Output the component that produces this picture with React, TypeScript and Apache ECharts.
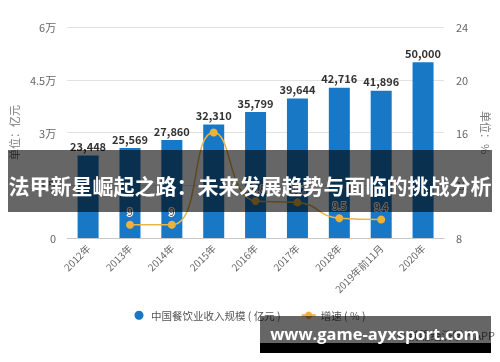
import React, { useEffect, useRef } from "react";
import * as echarts from "echarts";

const categories = ["2012年", "2013年", "2014年", "2015年", "2016年", "2017年", "2018年", "2019年前11月", "2020年"];
const revenue = [23448, 25569, 27860, 32310, 35799, 39644, 42716, 41896, 50000];
const growth: (number | null)[] = [null, 9, 9, 16, 10.8, 10.7, 9.5, 9.4, null];
const hiddenGrowthLabels = ["2015年"];
const leftTicks = { min: 0, max: 60000, interval: 15000 };
const rightTicks = { min: 8, max: 24, interval: 4 };
const barName = "中国餐饮业收入规模 ( 亿元 )";
const lineName = "增速 ( % )";
const bannerText = "法甲新星崛起之路：未来发展趋势与面临的挑战分析";
const siteText = "www.game-ayxsport.com";
const sourceText = "© 前瞻经济学人APP";

export default function App() {
  const ref = useRef<HTMLDivElement>(null);
  useEffect(() => {
    if (!ref.current) return;
    const chart = echarts.init(ref.current, null, { renderer: "svg" });
    const font = "'Noto Sans CJK SC', 'Noto Sans', sans-serif";
    chart.setOption({
      animation: false,
      textStyle: { fontFamily: font },
      grid: { left: 60, right: 46, top: 27, bottom: 124 },
      legend: {
        top: 305,
        left: "center",
        itemGap: 20,
        itemWidth: 14,
        itemHeight: 9,
        textStyle: { color: "#555", fontSize: 10.5, fontFamily: font },
        data: [
          { name: barName, icon: "circle" },
          { name: lineName },
        ],
      },
      xAxis: {
        type: "category",
        data: categories,
        axisLine: { lineStyle: { color: "#c8c8c8" } },
        axisTick: { alignWithLabel: true, lineStyle: { color: "#c8c8c8" } },
        axisLabel: { rotate: 45, color: "#666", fontSize: 10, margin: 8 },
      },
      yAxis: [
        {
          type: "value",
          ...leftTicks,
          name: "单位：亿元",
          nameLocation: "middle",
          nameGap: 40,
          nameTextStyle: { color: "#777", fontSize: 11 },
          axisLine: { show: false },
          axisTick: { show: false },
          axisLabel: {
            color: "#666",
            fontSize: 11,
            margin: 11,
            formatter: (v: number) => (v === 0 ? "0" : v / 10000 + "万"),
          },
          splitLine: { lineStyle: { color: "#e2e2e2" } },
        },
        {
          type: "value",
          ...rightTicks,
          name: "单位：%",
          nameLocation: "middle",
          nameGap: 37,
          nameRotate: -90,
          nameTextStyle: { color: "#777", fontSize: 11 },
          axisLine: { show: false },
          axisTick: { show: false },
          axisLabel: { color: "#666", fontSize: 11, margin: 12 },
          splitLine: { show: false },
        },
      ],
      series: [
        {
          name: barName,
          type: "bar",
          data: revenue,
          barWidth: 21,
          itemStyle: { color: "#1878c6" },
          label: {
            show: true,
            position: "top",
            distance: 4,
            color: "#333",
            fontSize: 11,
            fontWeight: "bold",
            formatter: (p: any) => p.value.toLocaleString("en-US"),
          },
        },
        {
          name: lineName,
          type: "line",
          yAxisIndex: 1,
          smooth: 0.5,
          data: growth.map((v, i) => ({
            value: v,
            label: { show: !hiddenGrowthLabels.includes(categories[i]) },
          })),
          symbol: "circle",
          symbolSize: 8,
          itemStyle: { color: "#edb23b" },
          lineStyle: { color: "#e8b54a", width: 1.5 },
          label: {
            show: true,
            position: "top",
            distance: 4,
            color: "#444",
            fontSize: 10,
            textBorderColor: "#fff",
            textBorderWidth: 2,
          },
        },
      ],
      graphic: [
        {
          type: "rect",
          shape: { x: 8, y: 150, width: 484, height: 62 },
          style: { fill: "rgba(0,0,0,0.6)" },
          z: 100,
        },
        {
          type: "text",
          x: 250,
          y: 185,
          style: {
            text: bannerText,
            fill: "#fff",
            font: "bold 21px 'Noto Sans CJK SC', sans-serif",
            textAlign: "center",
            textVerticalAlign: "middle",
          },
          z: 101,
        },
        {
          type: "text",
          x: 495,
          y: 335,
          style: {
            text: sourceText,
            fill: "#666",
            font: "11px 'Noto Sans CJK SC', sans-serif",
            textAlign: "right",
            textVerticalAlign: "middle",
          },
          z: 99,
        },
        {
          type: "rect",
          shape: { x: 260, y: 316, width: 231, height: 27 },
          style: { fill: "rgba(0,0,0,0.6)" },
          z: 100,
        },
        {
          type: "rect",
          shape: { x: 260, y: 343, width: 231, height: 10 },
          style: { fill: "#000" },
          z: 100,
        },
        {
          type: "text",
          x: 375,
          y: 333,
          style: {
            text: siteText,
            fill: "#fff",
            font: "bold 16.5px 'Open Sans', sans-serif",
            textAlign: "center",
            textVerticalAlign: "middle",
          },
          z: 101,
        },
      ],
    });
    return () => chart.dispose();
  }, []);
  return <div ref={ref} style={{ position: "fixed", left: 0, top: 0, width: 500, height: 362 }} />;
}
